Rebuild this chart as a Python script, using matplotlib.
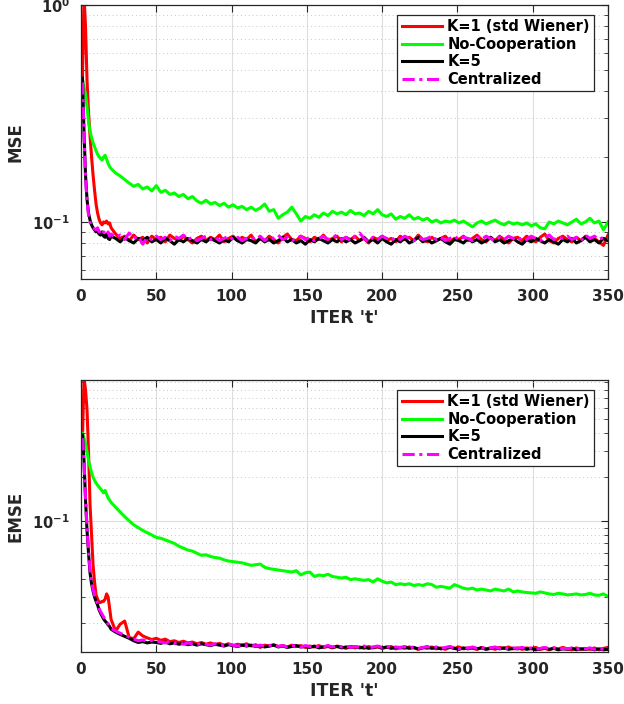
import matplotlib
matplotlib.use("Agg")
import matplotlib.pyplot as plt
from matplotlib.ticker import LogLocator, NullFormatter, FixedLocator, FixedFormatter

plt.rcParams['font.family'] = ['DejaVu Sans']
plt.rcParams['font.weight'] = 'bold'
plt.rcParams['mathtext.fontset'] = 'custom'
plt.rcParams['mathtext.rm'] = 'DejaVu Sans:bold'
plt.rcParams['mathtext.it'] = 'DejaVu Sans:bold'
plt.rcParams['mathtext.bf'] = 'DejaVu Sans:bold'
plt.rcParams['mathtext.default'] = 'rm'

# ---------------- data ----------------
ITER = list(range(1, 21)) + list(range(23, 351, 3))

series_labels = ['K=1 (std Wiener)', 'No-Cooperation', 'K=5', 'Centralized']
x_ticks = [0, 50, 100, 150, 200, 250, 300, 350]
x_label = "ITER 't'"
y_label_top = 'MSE'
y_label_bottom = 'EMSE'
y_ticks_top = [0.1, 1.0]
y_ticklabels_top = [r'$10^{-1}$', r'$10^{0}$']
y_ticks_bottom = [0.1]
y_ticklabels_bottom = [r'$10^{-1}$']

mse_k1 = [
    0.47, 1.10, 0.80, 0.45, 0.32, 0.25, 0.20, 0.165, 0.140, 0.121,
    0.110, 0.103, 0.099, 0.097, 0.100, 0.099, 0.101, 0.098, 0.099, 0.094,
    0.088, 0.084, 0.086, 0.082, 0.087, 0.083, 0.085, 0.080, 0.086, 0.083,
    0.085, 0.081, 0.087, 0.084, 0.082, 0.086, 0.083, 0.080, 0.084, 0.086,
    0.082, 0.085, 0.083, 0.087, 0.081, 0.084, 0.086, 0.082, 0.085, 0.083,
    0.087, 0.081, 0.084, 0.082, 0.086, 0.083, 0.080, 0.085, 0.088, 0.083,
    0.082, 0.086, 0.084, 0.081, 0.085, 0.083, 0.087, 0.082, 0.084, 0.086,
    0.081, 0.085, 0.083, 0.086, 0.082, 0.084, 0.080, 0.085, 0.083, 0.086,
    0.082, 0.084, 0.081, 0.086, 0.083, 0.085, 0.082, 0.087, 0.083, 0.081,
    0.085, 0.082, 0.084, 0.086, 0.081, 0.084, 0.083, 0.086, 0.082, 0.084,
    0.087, 0.083, 0.081, 0.085, 0.082, 0.086, 0.083, 0.080, 0.084, 0.085,
    0.082, 0.086, 0.083, 0.081, 0.085, 0.088, 0.082, 0.080, 0.084, 0.086,
    0.083, 0.081, 0.085, 0.082, 0.086, 0.083, 0.084, 0.081, 0.078, 0.087,
]
mse_noco = [
    0.45, 0.42, 0.39, 0.34, 0.29, 0.262, 0.245, 0.232, 0.222, 0.213,
    0.205, 0.200, 0.196, 0.193, 0.199, 0.203, 0.195, 0.186, 0.180, 0.176,
    0.168, 0.163, 0.157, 0.151, 0.146, 0.149, 0.142, 0.145, 0.139, 0.147,
    0.137, 0.140, 0.134, 0.136, 0.131, 0.134, 0.128, 0.131, 0.125, 0.122,
    0.126, 0.121, 0.123, 0.119, 0.122, 0.117, 0.120, 0.116, 0.118, 0.114,
    0.117, 0.113, 0.116, 0.121, 0.112, 0.114, 0.104, 0.108, 0.111, 0.117,
    0.109, 0.101, 0.106, 0.104, 0.108, 0.105, 0.110, 0.107, 0.112, 0.109,
    0.111, 0.108, 0.113, 0.109, 0.110, 0.107, 0.112, 0.109, 0.114, 0.108,
    0.106, 0.109, 0.103, 0.106, 0.104, 0.108, 0.103, 0.105, 0.102, 0.104,
    0.100, 0.102, 0.099, 0.101, 0.100, 0.102, 0.099, 0.101, 0.098, 0.095,
    0.099, 0.101, 0.098, 0.100, 0.102, 0.099, 0.097, 0.100, 0.098, 0.099,
    0.097, 0.099, 0.096, 0.098, 0.094, 0.093, 0.100, 0.098, 0.101, 0.099,
    0.097, 0.100, 0.103, 0.098, 0.100, 0.104, 0.099, 0.101, 0.092, 0.100,
]
mse_k5 = [
    0.46, 0.26, 0.165, 0.127, 0.110, 0.102, 0.097, 0.094, 0.092, 0.090,
    0.091, 0.088, 0.087, 0.090, 0.086, 0.085, 0.088, 0.084, 0.083, 0.086,
    0.084, 0.081, 0.085, 0.082, 0.080, 0.084, 0.082, 0.085, 0.081, 0.083,
    0.080, 0.084, 0.082, 0.079, 0.083, 0.081, 0.084, 0.082, 0.080, 0.083,
    0.081, 0.084, 0.082, 0.080, 0.083, 0.081, 0.085, 0.082, 0.080, 0.083,
    0.082, 0.080, 0.084, 0.081, 0.083, 0.080, 0.082, 0.085, 0.081, 0.083,
    0.080, 0.082, 0.079, 0.083, 0.081, 0.084, 0.082, 0.080, 0.083, 0.081,
    0.084, 0.081, 0.083, 0.080, 0.082, 0.085, 0.081, 0.083, 0.080, 0.084,
    0.081, 0.079, 0.083, 0.081, 0.084, 0.080, 0.082, 0.085, 0.081, 0.083,
    0.080, 0.082, 0.084, 0.081, 0.079, 0.083, 0.082, 0.080, 0.084, 0.081,
    0.083, 0.080, 0.082, 0.085, 0.081, 0.083, 0.080, 0.082, 0.084, 0.081,
    0.079, 0.083, 0.081, 0.084, 0.082, 0.080, 0.083, 0.081, 0.079, 0.083,
    0.081, 0.084, 0.080, 0.082, 0.085, 0.081, 0.083, 0.080, 0.084, 0.082,
]
mse_cent = [
    0.44, 0.25, 0.160, 0.125, 0.108, 0.100, 0.096, 0.094, 0.093, 0.092,
    0.094, 0.090, 0.091, 0.088, 0.090, 0.089, 0.087, 0.090, 0.086, 0.088,
    0.085, 0.087, 0.083, 0.089, 0.084, 0.086, 0.079, 0.085, 0.083, 0.086,
    0.083, 0.085, 0.082, 0.086, 0.084, 0.087, 0.083, 0.085, 0.082, 0.084,
    0.086, 0.083, 0.085, 0.082, 0.084, 0.086, 0.083, 0.085, 0.082, 0.084,
    0.085, 0.083, 0.086, 0.082, 0.085, 0.084, 0.087, 0.083, 0.085, 0.082,
    0.084, 0.086, 0.083, 0.085, 0.082, 0.084, 0.086, 0.083, 0.085, 0.087,
    0.083, 0.085, 0.082, 0.086, 0.089, 0.084, 0.081, 0.085, 0.083, 0.086,
    0.084, 0.082, 0.085, 0.083, 0.086, 0.084, 0.082, 0.085, 0.083, 0.084,
    0.086, 0.083, 0.085, 0.082, 0.084, 0.086, 0.083, 0.085, 0.084, 0.082,
    0.085, 0.083, 0.086, 0.084, 0.082, 0.085, 0.083, 0.086, 0.084, 0.082,
    0.085, 0.083, 0.086, 0.084, 0.082, 0.085, 0.087, 0.083, 0.085, 0.084,
    0.086, 0.083, 0.085, 0.082, 0.087, 0.084, 0.086, 0.083, 0.085, 0.084,
]

emse_k1 = [
    0.38, 0.95, 0.80, 0.58, 0.30, 0.13, 0.080, 0.050, 0.038, 0.031,
    0.029, 0.0275, 0.0275, 0.028, 0.028, 0.029, 0.0315, 0.030, 0.025, 0.021,
    0.0175, 0.0195, 0.0205, 0.0158, 0.0155, 0.0172, 0.0162, 0.0157, 0.0153, 0.0156,
    0.0151, 0.0154, 0.0148, 0.0150, 0.0146, 0.0149, 0.0145, 0.0147, 0.0143, 0.0146,
    0.0142, 0.0145, 0.0141, 0.0144, 0.0140, 0.0143, 0.0139, 0.0142, 0.0140, 0.0143,
    0.0138, 0.0141, 0.0135, 0.0140, 0.0138, 0.0141, 0.0137, 0.0139, 0.0136, 0.0140,
    0.0137, 0.0139, 0.0135, 0.0138, 0.0136, 0.0139, 0.0135, 0.0137, 0.0134, 0.0138,
    0.0136, 0.0133, 0.0137, 0.0134, 0.0136, 0.0133, 0.0137, 0.0134, 0.0136, 0.0133,
    0.0135, 0.0137, 0.0132, 0.0135, 0.0133, 0.0136, 0.0134, 0.0131, 0.0135, 0.0133,
    0.0136, 0.0132, 0.0134, 0.0131, 0.0135, 0.0133, 0.0136, 0.0132, 0.0134, 0.0133,
    0.0131, 0.0135, 0.0132, 0.0134, 0.0131, 0.0135, 0.0133, 0.0136, 0.0132, 0.0134,
    0.0131, 0.0134, 0.0132, 0.0135, 0.0131, 0.0133, 0.0130, 0.0134, 0.0132, 0.0135,
    0.0132, 0.0130, 0.0134, 0.0131, 0.0133, 0.0131, 0.0134, 0.0130, 0.0133, 0.0135,
]
emse_noco = [
    0.40, 0.37, 0.34, 0.30, 0.26, 0.235, 0.215, 0.200, 0.190, 0.182,
    0.176, 0.171, 0.166, 0.161, 0.156, 0.162, 0.152, 0.144, 0.139, 0.134,
    0.124, 0.115, 0.107, 0.100, 0.094, 0.090, 0.086, 0.083, 0.080, 0.077,
    0.076, 0.074, 0.072, 0.070, 0.067, 0.065, 0.063, 0.062, 0.060, 0.058,
    0.0585, 0.057, 0.056, 0.0555, 0.054, 0.053, 0.0525, 0.052, 0.0515, 0.0505,
    0.0495, 0.050, 0.0505, 0.048, 0.047, 0.0465, 0.046, 0.0455, 0.045, 0.0445,
    0.0455, 0.0425, 0.044, 0.0445, 0.0415, 0.0425, 0.042, 0.043, 0.0415, 0.041,
    0.0405, 0.041, 0.0395, 0.040, 0.0395, 0.039, 0.0395, 0.038, 0.040, 0.0385,
    0.0375, 0.038, 0.0365, 0.037, 0.0365, 0.037, 0.036, 0.0365, 0.036, 0.037,
    0.0365, 0.035, 0.0355, 0.035, 0.0345, 0.0365, 0.0355, 0.0345, 0.034, 0.0345,
    0.0335, 0.034, 0.0335, 0.033, 0.034, 0.0335, 0.033, 0.034, 0.0325, 0.033,
    0.0325, 0.0322, 0.032, 0.0318, 0.0325, 0.032, 0.0315, 0.0312, 0.0318, 0.0315,
    0.031, 0.0312, 0.0315, 0.031, 0.0312, 0.0318, 0.031, 0.0308, 0.0315, 0.0302,
]
emse_k5 = [
    0.39, 0.26, 0.14, 0.086, 0.060, 0.044, 0.037, 0.033, 0.030, 0.028,
    0.0265, 0.0245, 0.0232, 0.0222, 0.0212, 0.0205, 0.0200, 0.0193, 0.0188, 0.0180,
    0.0172, 0.0166, 0.0161, 0.0156, 0.0150, 0.0146, 0.0148, 0.0145, 0.0147, 0.0146,
    0.0144, 0.0147, 0.0143, 0.0145, 0.0142, 0.0144, 0.0141, 0.0143, 0.0140, 0.0143,
    0.0141, 0.0139, 0.0142, 0.0140, 0.0138, 0.0141, 0.0139, 0.0137, 0.0140, 0.0138,
    0.0140, 0.0137, 0.0139, 0.0136, 0.0138, 0.0140, 0.0136, 0.0138, 0.0135, 0.0137,
    0.0139, 0.0136, 0.0137, 0.0135, 0.0138, 0.0134, 0.0136, 0.0138, 0.0135, 0.0137,
    0.0134, 0.0136, 0.0135, 0.0137, 0.0134, 0.0136, 0.0133, 0.0135, 0.0137, 0.0134,
    0.0136, 0.0133, 0.0135, 0.0134, 0.0136, 0.0133, 0.0135, 0.0132, 0.0134, 0.0136,
    0.0133, 0.0135, 0.0132, 0.0134, 0.0136, 0.0133, 0.0131, 0.0134, 0.0132, 0.0135,
    0.0132, 0.0134, 0.0131, 0.0133, 0.0135, 0.0132, 0.0134, 0.0131, 0.0133, 0.0132,
    0.0134, 0.0131, 0.0133, 0.0130, 0.0132, 0.0134, 0.0131, 0.0133, 0.0130, 0.0132,
    0.0131, 0.0133, 0.0130, 0.0132, 0.0131, 0.0133, 0.0130, 0.0132, 0.0130, 0.0131,
]
emse_cent = [
    0.37, 0.25, 0.145, 0.090, 0.063, 0.046, 0.038, 0.034, 0.031, 0.029,
    0.027, 0.025, 0.0238, 0.0228, 0.0218, 0.0210, 0.0203, 0.0196, 0.0190, 0.0183,
    0.0175, 0.0169, 0.0164, 0.0159, 0.0154, 0.0150, 0.0152, 0.0149, 0.0151, 0.0148,
    0.0147, 0.0145, 0.0148, 0.0144, 0.0146, 0.0142, 0.0145, 0.0143, 0.0141, 0.0144,
    0.0142, 0.0140, 0.0143, 0.0141, 0.0139, 0.0142, 0.0140, 0.0138, 0.0141, 0.0139,
    0.0141, 0.0138, 0.0140, 0.0137, 0.0139, 0.0141, 0.0137, 0.0139, 0.0136, 0.0139,
    0.0138, 0.0136, 0.0139, 0.0137, 0.0135, 0.0138, 0.0136, 0.0139, 0.0136, 0.0138,
    0.0136, 0.0138, 0.0135, 0.0137, 0.0135, 0.0138, 0.0134, 0.0136, 0.0138, 0.0135,
    0.0137, 0.0134, 0.0136, 0.0135, 0.0137, 0.0134, 0.0136, 0.0133, 0.0135, 0.0137,
    0.0134, 0.0136, 0.0133, 0.0135, 0.0137, 0.0134, 0.0132, 0.0135, 0.0133, 0.0136,
    0.0133, 0.0135, 0.0132, 0.0134, 0.0136, 0.0133, 0.0135, 0.0132, 0.0134, 0.0133,
    0.0135, 0.0132, 0.0134, 0.0131, 0.0133, 0.0135, 0.0132, 0.0134, 0.0131, 0.0133,
    0.0132, 0.0134, 0.0131, 0.0133, 0.0132, 0.0134, 0.0131, 0.0133, 0.0131, 0.0133,
]

# ---------------- figure ----------------
W, H = 624, 704
fig = plt.figure(figsize=(W / 100, H / 100), dpi=100)

def px_axes(left, top, right, bottom):
    return fig.add_axes([left / W, 1 - bottom / H, (right - left) / W, (bottom - top) / H])

ax1 = px_axes(81, 5, 608, 279)
ax2 = px_axes(81, 380, 608, 652)

styles = [
    dict(color=(1, 0, 0), lw=2.2, ls='-'),
    dict(color=(0, 1, 0), lw=2.2, ls='-'),
    dict(color=(0, 0, 0), lw=2.2, ls='-'),
    dict(color=(1, 0, 1), lw=2.2, ls=(0, (4, 1.5, 1, 1.5))),
]

edge = (0.15, 0.15, 0.15)
txt = (0.15, 0.15, 0.15)

def setup(ax, data, ylim, yticks, yticklabels, ylabel):
    for vals, st, lab in zip(data, styles, series_labels):
        ax.plot(ITER, vals, label=lab, **st)
    ax.set_yscale('log')
    ax.set_xlim(0, 350)
    ax.set_ylim(*ylim)
    ax.xaxis.set_major_locator(FixedLocator(x_ticks))
    ax.yaxis.set_major_locator(FixedLocator(yticks))
    ax.yaxis.set_major_formatter(FixedFormatter(yticklabels))
    ax.yaxis.set_minor_locator(LogLocator(base=10, subs=[2, 3, 4, 5, 6, 7, 8, 9], numticks=20))
    ax.yaxis.set_minor_formatter(NullFormatter())
    ax.grid(True, which='major', color=(0.87, 0.87, 0.87), lw=0.8, ls='-')
    ax.grid(True, which='minor', axis='y', color=(0.78, 0.78, 0.78), lw=0.7, ls=(0, (1, 3)))
    ax.set_axisbelow(True)
    ax.tick_params(which='both', direction='in', top=True, right=True, color=edge,
                   labelcolor=txt)
    ax.tick_params(which='major', length=5, width=0.8)
    ax.tick_params(which='minor', length=3, width=0.6)
    ax.tick_params(axis='x', pad=7, labelsize=11)
    ax.tick_params(axis='y', pad=8, labelsize=10.5)
    for sp in ax.spines.values():
        sp.set_color(edge)
        sp.set_linewidth(0.9)
    for lbl in ax.get_xticklabels() + ax.get_yticklabels():
        lbl.set_fontweight('bold')
    ax.set_xlabel(x_label, fontsize=12.5, fontweight='bold', color=txt, labelpad=4)
    ax.set_ylabel(ylabel, fontsize=12, fontweight='bold', color=txt)
    ax.yaxis.set_label_coords(-(81 - 25) / 527, 0.5)
    leg = ax.legend(loc='upper right', bbox_to_anchor=(0.9735, 0.9635), borderaxespad=0,
                    fontsize=10.5, frameon=True, fancybox=False, framealpha=1,
                    edgecolor=edge, handlelength=2.8, handletextpad=0.35,
                    labelspacing=0.18, borderpad=0.28)
    leg.get_frame().set_linewidth(0.9)
    for t in leg.get_texts():
        t.set_fontweight('bold')

setup(ax1, [mse_k1, mse_noco, mse_k5, mse_cent], (0.0546, 1.0), y_ticks_top, y_ticklabels_top, y_label_top)
setup(ax2, [emse_k1, emse_noco, emse_k5, emse_cent], (0.01256, 0.93), y_ticks_bottom, y_ticklabels_bottom, y_label_bottom)

fig.savefig('out.png', dpi=100)
